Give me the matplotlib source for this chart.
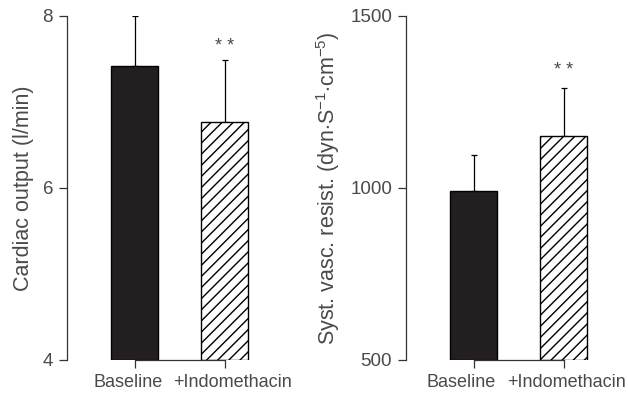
import numpy as np
import matplotlib.pyplot as plt
import matplotlib.transforms as mtransforms

plt.rcParams['font.family'] = ['Liberation Sans', 'DejaVu Sans']
plt.rcParams['mathtext.fontset'] = 'custom'
plt.rcParams['mathtext.rm'] = 'Liberation Sans'
plt.rcParams['hatch.linewidth'] = 1.0

groups = ["Baseline", "+Indomethacin"]

co_values = [7.42, 6.77]
co_errors = [0.58, 0.71]
co_ticks = [4, 6, 8]

svr_values = [990, 1152]
svr_errors = [104, 139]
svr_ticks = [500, 1000, 1500]

TEXT = "#4a4a4a"
W, H = 628, 397


def draw_panel(fig, rect, values, errors, ticks, ylabel, star_y, label_shift):
    ax = fig.add_axes(rect)
    x = np.arange(len(values))
    base = ticks[0]
    heights = [v - base for v in values]
    ax.bar(x[0], heights[0], bottom=base, width=0.53, color="#231f20",
           edgecolor="black", linewidth=1.0, zorder=2)
    ax.bar(x[1], heights[1], bottom=base, width=0.53, color="white",
           edgecolor="black", hatch="///", linewidth=1.0, zorder=2)
    ax.errorbar(x, values, yerr=[np.zeros(len(errors)), errors], fmt="none",
                ecolor="black", elinewidth=0.9, capsize=2.3, capthick=0.9, zorder=1)
    ax.text(x[1], star_y, "* *", ha="center", va="center", fontsize=13, color=TEXT)

    ax.set_ylim(ticks[0], ticks[-1])
    ax.set_xlim(-0.75, 1.35)
    ax.set_yticks(ticks)
    ax.set_xticks(x)
    ax.set_xticklabels(groups)
    for s in ["top", "right"]:
        ax.spines[s].set_visible(False)
    ax.spines["left"].set_bounds(ticks[0], ticks[-1])
    ax.spines["bottom"].set_bounds(0, 1)
    for s in ["left", "bottom"]:
        ax.spines[s].set_color("#333333")
        ax.spines[s].set_linewidth(0.9)
    ax.tick_params(axis="y", length=6, width=0.9, color="#333333", labelsize=13.5,
                   labelcolor=TEXT, pad=4)
    ax.tick_params(axis="x", length=6, width=0.9, color="#333333", labelsize=13,
                   labelcolor=TEXT, pad=4)
    # nudge the two category labels apart, as in the original
    for lab, dx in zip(ax.get_xticklabels(), label_shift):
        lab.set_transform(lab.get_transform() +
                          mtransforms.ScaledTranslation(dx / 100, 0, fig.dpi_scale_trans))
    ax.set_ylabel(ylabel, fontsize=15.5, color=TEXT, labelpad=6)
    return ax


fig = plt.figure(figsize=(W / 100, H / 100), dpi=100)

bottom = (H - 360) / H
height = (360 - 15.7) / H
width = 2.1 * 90 / W

draw_panel(fig, [67 / W, bottom, width, height], co_values, co_errors, co_ticks,
           "Cardiac output (l/min)", 7.64, (-6, 8))
draw_panel(fig, [406 / W, bottom, width, height], svr_values, svr_errors, svr_ticks,
           r"Syst. vasc. resist. (dyn$\cdot$S$^{-1}$$\cdot$cm$^{-5}$)", 1340, (-12, 3))

fig.savefig("out.png", dpi=100)
